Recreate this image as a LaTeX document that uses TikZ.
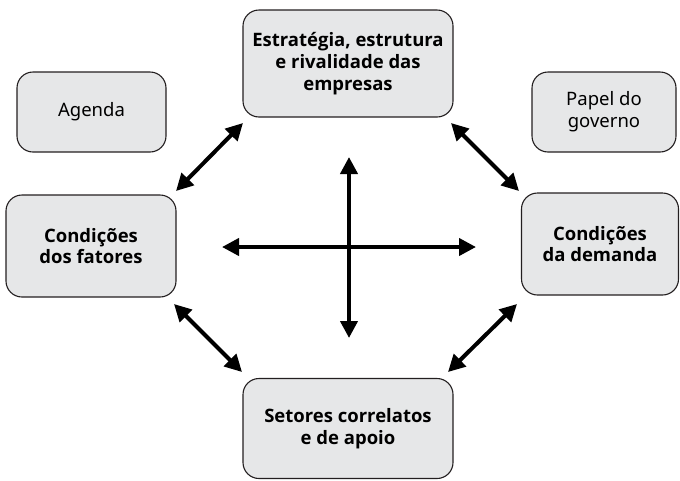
\documentclass[tikz,border=0pt]{standalone}
\usepackage{fontspec}
\setmainfont{Noto Sans}[BoldFont={Open Sans Bold}]
\usetikzlibrary{arrows.meta}
\definecolor{boxgray}{HTML}{E6E7E8}
\definecolor{boxline}{HTML}{231F20}
\begin{document}
\begin{tikzpicture}[x=1pt,y=-1pt,
  box/.style={draw=boxline, line width=1.1pt, fill=boxgray, rounded corners=16pt,
    align=center, inner sep=0pt, font=\fontsize{18.5}{21.7}\selectfont},
  mainbox/.style={box, font=\fontsize{18.5}{21.7}\selectfont\bfseries},
  conn/.style={line width=4pt, draw=black,
    {Triangle[length=17pt,width=17pt]}-{Triangle[length=17pt,width=17pt]}}]
\useasboundingbox (0,0) rectangle (680,480);
% boxes
\node[mainbox, minimum width=210pt, minimum height=107pt] (top) at (348,63.5)
  {Estratégia, estrutura\\e rivalidade das\\empresas};
\node[box, minimum width=149pt, minimum height=80pt] (agenda) at (91.5,112) {Agenda};
\node[box, minimum width=144pt, minimum height=80pt] (gov) at (604,112) {Papel do\\governo};
\node[mainbox, minimum width=170pt, minimum height=102pt] (fat) at (91,246)
  {Condições\\dos fatores};
\node[mainbox, minimum width=157pt, minimum height=102pt] (dem) at (600,244)
  {Condições\\da demanda};
\node[mainbox, minimum width=210pt, minimum height=100pt] (set) at (348,428.5)
  {Setores correlatos\\e de apoio};
% arrow end points
\coordinate (tlA) at (243,123); \coordinate (tlB) at (176,191);
\coordinate (trA) at (451,123); \coordinate (trB) at (519,191);
\coordinate (blA) at (174,304); \coordinate (blB) at (242,372);
\coordinate (brA) at (517,304); \coordinate (brB) at (448,372);
\coordinate (cl) at (222,247); \coordinate (cr) at (476,247);
\coordinate (ct) at (349,157); \coordinate (cb) at (349,338);
% connectors
\draw[conn] (tlA) -- (tlB);
\draw[conn] (trA) -- (trB);
\draw[conn] (blA) -- (blB);
\draw[conn] (brA) -- (brB);
\draw[conn] (cl) -- (cr);
\draw[conn] (ct) -- (cb);
\end{tikzpicture}
\end{document}
